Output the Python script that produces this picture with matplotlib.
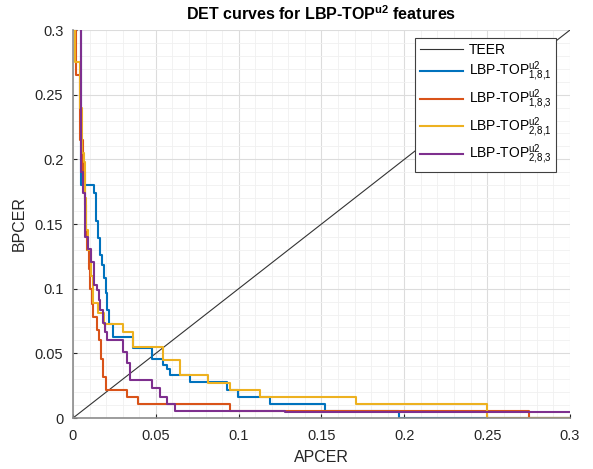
import numpy as np
import matplotlib
matplotlib.use("Agg")
import matplotlib.pyplot as plt
from matplotlib.ticker import MultipleLocator

plt.rcParams['font.family'] = ['Liberation Sans', 'DejaVu Sans']
plt.rcParams['mathtext.fontset'] = 'custom'
plt.rcParams['mathtext.rm'] = 'Liberation Sans'
plt.rcParams['mathtext.it'] = 'Liberation Sans:italic'
plt.rcParams['mathtext.bf'] = 'Liberation Sans:bold'

# DET operating points: APCER where the curve drops, BPCER level after the drop
apcer_181 = [0.0050, 0.0127, 0.0139, 0.0151, 0.0163, 0.0175, 0.0187, 0.0199, 0.0207,
             0.0215, 0.0243, 0.0364, 0.0475, 0.0545, 0.0565, 0.0585, 0.0706, 0.0927,
             0.0998, 0.119, 0.152, 0.197, 0.3]
bpcer_181 = [0.31, 0.180, 0.174, 0.152, 0.139, 0.126, 0.118, 0.108, 0.0964, 0.0835,
             0.0727, 0.063, 0.054, 0.046, 0.041, 0.038, 0.033, 0.028, 0.0217,
             0.0162, 0.0108, 0.0054, 0.0]

apcer_183 = [0.002, 0.0045, 0.0060, 0.0070, 0.0078, 0.0085, 0.0095, 0.0105, 0.0115,
             0.0123, 0.0143, 0.0157, 0.0169, 0.0183, 0.0197, 0.0324, 0.0394, 0.0948,
             0.275, 0.3]
bpcer_183 = [0.31, 0.265, 0.215, 0.19, 0.165, 0.14, 0.13, 0.115, 0.10, 0.088, 0.078,
             0.068, 0.060, 0.046, 0.032, 0.0217, 0.0165, 0.0108, 0.0054, 0.0]

apcer_281 = [0.001, 0.0045, 0.0055, 0.0065, 0.0075, 0.0080, 0.0092, 0.0110, 0.0123,
             0.0150, 0.0190, 0.0304, 0.0364, 0.0545, 0.0646, 0.0817, 0.0948, 0.113,
             0.171, 0.25, 0.3]
bpcer_281 = [0.31, 0.275, 0.24, 0.205, 0.198, 0.17, 0.145, 0.13, 0.11, 0.0887, 0.081,
             0.0727, 0.0665, 0.0551, 0.0449, 0.0333, 0.0268, 0.0217, 0.0165, 0.0108, 0.0]

apcer_283 = [0.0046, 0.0062, 0.0072, 0.0092, 0.0107, 0.0127, 0.0147, 0.0159, 0.0163,
             0.0183, 0.0193, 0.0203, 0.0304, 0.0324, 0.0344, 0.0475, 0.0525, 0.0566,
             0.0616, 0.128, 0.3]
bpcer_283 = [0.31, 0.19, 0.174, 0.140, 0.131, 0.121, 0.103, 0.099, 0.091, 0.0835,
             0.0735, 0.0667, 0.060, 0.0513, 0.0423, 0.0294, 0.023, 0.0165, 0.0108,
             0.0054, 0.0049]

teer = [0.0, 0.3]

fig = plt.figure(figsize=(5.93, 4.69), dpi=100)
ax = fig.add_axes([0.1231, 0.1087, 0.8381, 0.8273])

ax.plot(teer, teer, color='#333333', lw=0.8, label='TEER')
ax.plot(apcer_181, bpcer_181, drawstyle='steps-pre', color='#0072BD', lw=1.5,
        label=r'LBP-TOP$^{\mathrm{u2}}_{\mathrm{1{,}8{,}1}}$')
ax.plot(apcer_183, bpcer_183, drawstyle='steps-pre', color='#D95319', lw=1.5,
        label=r'LBP-TOP$^{\mathrm{u2}}_{\mathrm{1{,}8{,}3}}$')
ax.plot(apcer_281, bpcer_281, drawstyle='steps-pre', color='#EDB120', lw=1.5,
        label=r'LBP-TOP$^{\mathrm{u2}}_{\mathrm{2{,}8{,}1}}$')
ax.plot(apcer_283, bpcer_283, drawstyle='steps-pre', color='#7E2F8E', lw=1.5,
        label=r'LBP-TOP$^{\mathrm{u2}}_{\mathrm{2{,}8{,}3}}$')

ax.set_xlim(0, 0.3)
ax.set_ylim(0, 0.3)
ax.xaxis.set_minor_locator(MultipleLocator(0.01))
ax.yaxis.set_minor_locator(MultipleLocator(0.01))
ticks = [0, 0.05, 0.1, 0.15, 0.2, 0.25, 0.3]
tick_labels = ['0', '0.05', '0.1', '0.15', '0.2', '0.25', '0.3']
ax.set_xticks(ticks)
ax.set_xticklabels(tick_labels)
ax.set_yticks(ticks)
ax.set_yticklabels(tick_labels)
ax.grid(which='major', color='#dcdcdc', lw=0.8)
ax.grid(which='minor', color='#f0f0f0', lw=0.6)
ax.set_axisbelow(True)
ax.tick_params(which='both', direction='in', colors='#262626', labelsize=10.5)
ax.tick_params(which='minor', length=0)
ax.tick_params(which='major', length=3)
ax.tick_params(axis='x', pad=8)
ax.tick_params(axis='y', pad=7)
for side in ['top', 'right']:
    ax.spines[side].set_visible(False)
for side in ['left', 'bottom']:
    ax.spines[side].set_color('#8c8c8c')
    ax.spines[side].set_linewidth(1.2)

ax.set_xlabel('APCER', fontsize=11.5, color='#262626', labelpad=5)
ax.set_ylabel('BPCER', fontsize=11.5, color='#262626', labelpad=6)
ax.set_title(r'DET curves for LBP-TOP$^{\mathbf{u2}}$ features', fontsize=11.5,
             fontweight='bold', pad=7)

leg = ax.legend(loc='upper right', bbox_to_anchor=(0.986, 0.998), fontsize=10,
                handlelength=3.1, handletextpad=0.4, labelspacing=0.25,
                borderpad=0.35, fancybox=False, framealpha=1, edgecolor='#404040')
leg.get_frame().set_linewidth(0.8)

fig.savefig('out.png', dpi=100)
